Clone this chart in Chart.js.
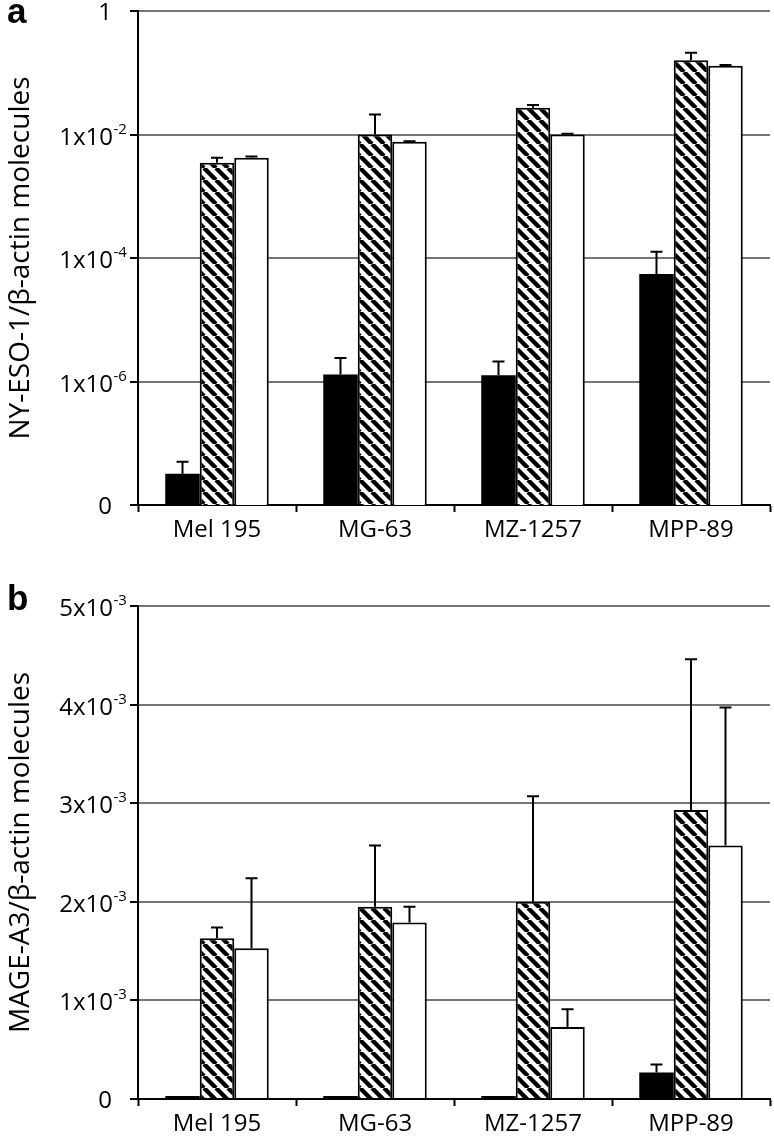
<!DOCTYPE html>
<html>
<head>
<meta charset="utf-8">
<script src="https://cdn.jsdelivr.net/npm/chart.js@4.4.1/dist/chart.umd.min.js"></script>
<style>
  body { margin: 0; background: #fff; }
  #wrap { position: relative; width: 774px; height: 1136px; }
  canvas { position: absolute; left: 0; }
</style>
</head>
<body>
<div id="wrap">
  <canvas id="chartA" width="774" height="560" style="top:0"></canvas>
  <canvas id="chartB" width="774" height="576" style="top:560px"></canvas>
</div>
<script>
const cellLines = ['Mel 195', 'MG-63', 'MZ-1257', 'MPP-89'];

// panel a - NY-ESO-1, log axis ("0" is really 1e-8)
const esoBlack = [3.2e-8, 1.3e-6, 1.26e-6, 5.5e-5];
const esoBlackErr = [1.8e-8, 1.1e-6, 0.84e-6, 7.1e-5];
const esoHatched = [3.5e-3, 1.0e-2, 2.7e-2, 0.16];
const esoHatchedErr = [0.7e-3, 1.1e-2, 0.3e-2, 0.05];
const esoWhite = [4.2e-3, 7.6e-3, 1.0e-2, 0.13];
const esoWhiteErr = [0.2e-3, 0.2e-3, 0.3e-3, 0.004];
const esoTicks = [1e-8, 1e-6, 1e-4, 1e-2, 1];
const esoTickLabels = [['0', ''], ['1x10', '-6'], ['1x10', '-4'], ['1x10', '-2'], ['1', '']];

// panel b - MAGE-A3, linear axis
const mageBlack = [3e-5, 3e-5, 3e-5, 2.7e-4];
const mageBlackErr = [0, 0, 0, 0.8e-4];
const mageHatched = [1.63e-3, 1.95e-3, 2.0e-3, 2.93e-3];
const mageHatchedErr = [0.11e-3, 0.62e-3, 1.07e-3, 1.53e-3];
const mageWhite = [1.53e-3, 1.79e-3, 0.73e-3, 2.57e-3];
const mageWhiteErr = [0.71e-3, 0.16e-3, 0.18e-3, 1.40e-3];
const mageTickLabels = [['0', ''], ['1x10', '-3'], ['2x10', '-3'], ['3x10', '-3'], ['4x10', '-3'], ['5x10', '-3']];

const FONT = "'Open Sans', sans-serif";

// diagonal hatch fill
function makeHatch() {
  const n = 12;
  const c = document.createElement('canvas');
  c.width = n; c.height = n;
  const g = c.getContext('2d');
  g.fillStyle = '#fff';
  g.fillRect(0, 0, n, n);
  g.strokeStyle = '#000';
  g.lineWidth = 4.4;
  g.beginPath();
  for (const k of [-n, 0, n]) {
    g.moveTo(k, 0);
    g.lineTo(k + n, n);
  }
  g.stroke();
  return g.createPattern(c, 'repeat');
}
const hatch = makeHatch();

const panelPlugin = {
  id: 'panel',
  afterDatasetsDraw(chart, args, opts) {
    const ctx = chart.ctx;
    const yScale = chart.scales.y;
    ctx.save();
    ctx.strokeStyle = '#000';
    ctx.lineWidth = 2;
    chart.data.datasets.forEach((ds, d) => {
      const meta = chart.getDatasetMeta(d);
      meta.data.forEach((bar, j) => {
        const err = opts.errors[d][j];
        if (!err) return;
        const top = yScale.getPixelForValue(ds.data[j] + err);
        ctx.beginPath();
        ctx.moveTo(bar.x, bar.y);
        ctx.lineTo(bar.x, top);
        ctx.moveTo(bar.x - 6, top);
        ctx.lineTo(bar.x + 6, top);
        ctx.stroke();
      });
    });
    ctx.restore();
  },
  afterDraw(chart, args, opts) {
    const ctx = chart.ctx;
    const yScale = chart.scales.y;
    ctx.save();
    ctx.fillStyle = '#000';
    ctx.textBaseline = 'alphabetic';
    yScale.ticks.forEach((t, i) => {
      const py = yScale.getPixelForValue(t.value);
      const [base, sup] = opts.tickLabels[i];
      ctx.textAlign = 'right';
      if (sup) {
        ctx.font = '24px ' + FONT;
        ctx.fillText(base, 113, py + 10);
        ctx.textAlign = 'left';
        ctx.font = '15px ' + FONT;
        ctx.fillText(sup, 113.5, py - 1);
      } else {
        ctx.font = '24px ' + FONT;
        ctx.fillText(base, 112, py + 9);
      }
    });
    ctx.font = "bold 35px 'Liberation Sans', Arial, sans-serif";
    ctx.textAlign = 'left';
    ctx.fillText(opts.letter, 7, opts.letterY);
    ctx.restore();
  }
};

function barSets(black, hatched, white) {
  const common = { barPercentage: 1, categoryPercentage: 0.655 };
  return [
    { data: black, backgroundColor: '#000', borderWidth: 0, ...common },
    { data: hatched, backgroundColor: hatch, borderColor: '#000', borderWidth: 2, ...common },
    { data: white, backgroundColor: '#fff', borderColor: '#000', borderWidth: 2, ...common }
  ];
}

function xAxis(height) {
  return {
    afterFit: s => { s.height = height; },
    grid: { offset: true, drawOnChartArea: false, tickLength: 7, tickColor: '#000', tickWidth: 2 },
    border: { color: '#000', width: 2 },
    ticks: { color: '#000', font: { family: FONT, size: 24 }, padding: 4, maxRotation: 0 }
  };
}

function yTitle(text) {
  return { display: true, text: text, color: '#000', font: { family: FONT, size: 28, lineHeight: 1 }, padding: { top: 7, bottom: 0 } };
}

const yGrid = { color: '#767676', lineWidth: 2, tickColor: '#000', tickLength: 8, tickWidth: 2 };

new Chart(document.getElementById('chartA'), {
  type: 'bar',
  data: { labels: cellLines, datasets: barSets(esoBlack, esoHatched, esoWhite) },
  options: {
    responsive: false,
    animation: false,
    layout: { padding: { top: 11, right: 4, left: 0, bottom: 0 } },
    plugins: {
      legend: { display: false },
      tooltip: { enabled: false },
      panel: {
        letter: 'a', letterY: 23,
        errors: [esoBlackErr, esoHatchedErr, esoWhiteErr],
        tickLabels: esoTickLabels
      }
    },
    scales: {
      x: xAxis(55),
      y: {
        type: 'logarithmic',
        min: 1e-8,
        max: 1,
        afterBuildTicks: s => { s.ticks = esoTicks.map(v => ({ value: v })); },
        afterFit: s => { s.width = 138; },
        ticks: { display: false },
        grid: yGrid,
        border: { color: '#000', width: 2 },
        title: yTitle('NY-ESO-1/β-actin molecules')
      }
    }
  },
  plugins: [panelPlugin]
});

new Chart(document.getElementById('chartB'), {
  type: 'bar',
  data: { labels: cellLines, datasets: barSets(mageBlack, mageHatched, mageWhite) },
  options: {
    responsive: false,
    animation: false,
    layout: { padding: { top: 46, right: 4, left: 0, bottom: 0 } },
    plugins: {
      legend: { display: false },
      tooltip: { enabled: false },
      panel: {
        letter: 'b', letterY: 50,
        errors: [mageBlackErr, mageHatchedErr, mageWhiteErr],
        tickLabels: mageTickLabels
      }
    },
    scales: {
      x: xAxis(37),
      y: {
        min: 0,
        max: 5e-3,
        ticks: { display: false, stepSize: 1e-3 },
        afterFit: s => { s.width = 138; },
        grid: yGrid,
        border: { color: '#000', width: 2 },
        title: yTitle('MAGE-A3/β-actin molecules')
      }
    }
  },
  plugins: [panelPlugin]
});
</script>
</body>
</html>
